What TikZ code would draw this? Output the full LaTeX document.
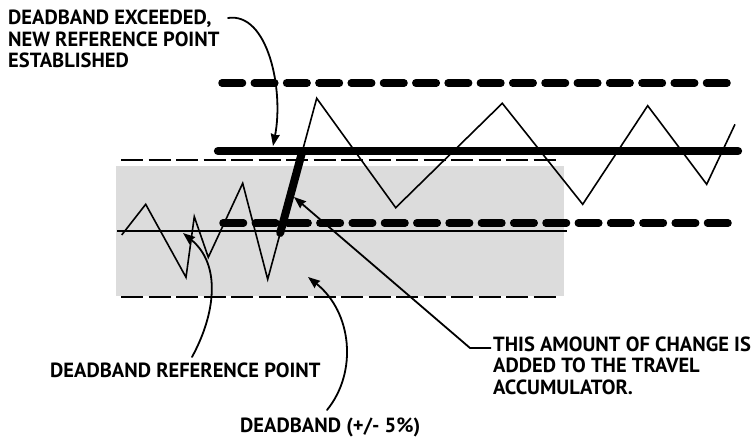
\documentclass[tikz,border=0pt]{standalone}
\usepackage{fontspec}
\setmainfont{PT Sans}
\usepackage{xcolor}
\usetikzlibrary{arrows.meta}
\definecolor{bandgray}{RGB}{220,220,220}

\begin{document}
\begin{tikzpicture}[x=1pt, y=-1pt, line join=round, line cap=round,
        lbl/.style={inner sep=0pt, anchor=base west, align=left,
            font=\bfseries\fontsize{20.5}{21.5}\selectfont},
        pointer/.style={line width=1.8pt, -{Stealth[length=12pt,width=9pt,inset=1pt]}},
        thindash/.style={line width=1.8pt, line cap=butt, dash pattern=on 22pt off 5.5pt},
        thickdash/.style={line width=7.5pt, dash pattern=on 20.5pt off 11.8pt},
        trace/.style={line width=1.6pt, line cap=butt, line join=miter}]
        \useasboundingbox (0,0) rectangle (753,441);

        \fill[bandgray] (116,166) rectangle (564,296);
        \draw[thindash] (121,160) -- (558,160);
        \draw[thindash] (121,297) -- (558,297);
        \draw[line width=1.8pt, line cap=butt] (117,231) -- (567,231);

        \draw[thickdash] (222,83) -- (735,83);
        \draw[thickdash] (223,223) -- (735,223);
        \draw[line width=8.3pt] (218,151) -- (738,151);

        \draw[trace] (121.7,235) -- (145.7,204.3) -- (186,277.3) -- (194.3,216.7)
            -- (208.3,257.3) -- (242.7,183.3) -- (267.7,279.3) -- (316.7,98.3)
            -- (395.7,207.7) -- (502.3,103.3) -- (582.7,204.3) -- (647.7,105.7)
            -- (706.7,184.3) -- (735,124.3);
        \draw[line width=8pt] (280.2,233) -- (302.4,151);

        \node[lbl] (exceeded) at (8,68) {DEADBAND EXCEEDED,\\NEW REFERENCE POINT\\ESTABLISHED};
        \node[lbl] (reftext) at (50,377) {DEADBAND REFERENCE POINT};
        \node[lbl] (bandtext) at (240,432) {DEADBAND (+/- 5\%)};
        \node[lbl] (changetext) at (493,394) {THIS AMOUNT OF CHANGE IS\\ADDED TO THE TRAVEL\\ACCUMULATOR.};

        \coordinate (exstart) at (228,18);
        \coordinate (newtip) at (273,146);
        \coordinate (refstart) at (192,357);
        \coordinate (reftip) at (183,233);
        \coordinate (bandstart) at (327,410);
        \coordinate (bandtip) at (308,277);
        \coordinate (changestart) at (491,348);
        \coordinate (changebend) at (470,348);
        \coordinate (changetip) at (294,197);

        \draw[pointer] (exstart) .. controls (268,12) and (284,90) .. (newtip);
        \draw[pointer] (refstart) .. controls (215,315) and (222,265) .. (reftip);
        \draw[pointer] (bandstart) .. controls (358,372) and (352,312) .. (bandtip);
        \draw[pointer, line cap=butt] (changestart) -- (changebend) -- (changetip);
\end{tikzpicture}
\end{document}
